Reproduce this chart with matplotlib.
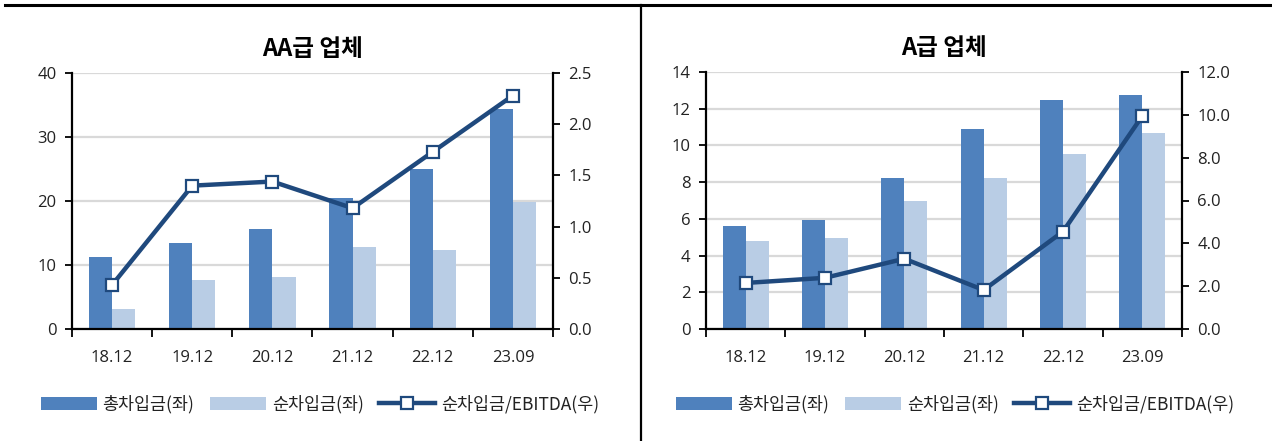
import matplotlib
matplotlib.use("Agg")
import matplotlib.pyplot as plt
from matplotlib.patches import Patch
from matplotlib.lines import Line2D

plt.rcParams['font.family'] = ['Open Sans', 'Noto Sans CJK KR', 'DejaVu Sans']

periods = ["18.12", "19.12", "20.12", "21.12", "22.12", "23.09"]

# AA급 업체
aa_gross = [11.3, 13.5, 15.6, 20.5, 25.0, 34.4]
aa_net = [3.1, 7.6, 8.2, 12.8, 12.4, 19.9]
aa_ratio = [0.43, 1.40, 1.44, 1.18, 1.73, 2.28]

# A급 업체
a_gross = [5.6, 5.93, 8.25, 10.9, 12.49, 12.77]
a_net = [4.82, 4.93, 6.96, 8.21, 9.54, 10.7]
a_ratio = [2.15, 2.39, 3.28, 1.82, 4.55, 9.95]

label_gross = "총차입금(좌)"
label_net = "순차입금(좌)"
label_ratio = "순차입금/EBITDA(우)"

C_DARK = "#4F81BD"
C_LIGHT = "#B9CDE5"
C_LINE = "#1F497D"
C_GRID = "#D9D9D9"
C_TEXT = "#222222"
KR = ['Noto Sans CJK KR', 'DejaVu Sans']

W, H = 1272, 441
fig = plt.figure(figsize=(W / 100, H / 100), dpi=100)


def px_axes(x0, y0, x1, y1):
    return fig.add_axes([x0 / W, 1 - y1 / H, (x1 - x0) / W, (y1 - y0) / H])


def panel(box, title, gross, net, ratio, lmax, lstep, rmax, rstep, rfmt, leg_x):
    ax = px_axes(*box)
    n = len(periods)
    x = list(range(n))
    bw = 0.29
    ax.bar([i - bw / 2 for i in x], gross, width=bw, color=C_DARK, zorder=2)
    ax.bar([i + bw / 2 for i in x], net, width=bw, color=C_LIGHT, zorder=2)
    ax.set_xlim(-0.5, n - 0.5)
    ax.set_ylim(0, lmax)
    ticks = [i * lstep for i in range(int(round(lmax / lstep)) + 1)]
    ax.set_yticks(ticks)
    ax.set_yticklabels([f"{t:g}" for t in ticks])
    ax.grid(axis='y', color=C_GRID, linewidth=1.6, zorder=0)
    ax.set_axisbelow(True)
    ax.set_xticks(x)
    ax.set_xticklabels(periods)
    ax.set_xticks([i - 0.5 for i in range(n + 1)], minor=True)
    ax.tick_params(axis='x', which='major', length=0, pad=15, labelsize=12,
                   labelcolor=C_TEXT)
    ax.tick_params(axis='x', which='minor', length=6, width=1.3, direction='out')
    ax.tick_params(axis='y', length=5, width=1.3, direction='out', pad=6,
                   labelsize=12, labelcolor=C_TEXT)
    for s in ('left', 'bottom'):
        ax.spines[s].set_linewidth(1.6)
    ax.spines['top'].set_visible(False)
    ax.spines['right'].set_visible(False)
    ax.set_title(title, fontsize=17, fontweight='bold', pad=12, family=KR)

    ax2 = ax.twinx()
    ax2.plot(x, ratio, color=C_LINE, linewidth=3.2, marker='s', markersize=9,
             markerfacecolor='white', markeredgecolor=C_LINE, markeredgewidth=1.6,
             zorder=5)
    ax2.set_ylim(0, rmax)
    rticks = [i * rstep for i in range(int(round(rmax / rstep)) + 1)]
    ax2.set_yticks(rticks)
    ax2.set_yticklabels([rfmt.format(t) for t in rticks])
    ax2.tick_params(axis='y', length=5, width=1.3, direction='out', pad=6,
                    labelsize=12, labelcolor=C_TEXT)
    ax2.spines['right'].set_linewidth(1.6)
    ax2.spines['top'].set_visible(False)
    ax2.spines['left'].set_visible(False)
    ax2.spines['bottom'].set_visible(False)

    handles = [
        Patch(facecolor=C_DARK, edgecolor='none', label=label_gross),
        Patch(facecolor=C_LIGHT, edgecolor='none', label=label_net),
        Line2D([], [], color=C_LINE, linewidth=3.2, marker='s', markersize=9,
               markerfacecolor='white', markeredgecolor=C_LINE,
               markeredgewidth=1.6, label=label_ratio),
    ]
    fig.legend(handles=handles, loc='center', bbox_to_anchor=(leg_x / W, 1 - 404 / H),
               ncol=3, frameon=False, handlelength=3.2, handleheight=0.8,
               handletextpad=0.35, columnspacing=0.9,
               prop={'family': KR, 'size': 12.5}, labelcolor=C_TEXT)


panel((72, 73, 553, 329), "AA급 업체", aa_gross, aa_net, aa_ratio,
      40, 10, 2.5, 0.5, "{:.1f}", 320)
panel((706, 72, 1182, 329), "A급 업체", a_gross, a_net, a_ratio,
      14, 2, 12.0, 2.0, "{:.1f}", 955)

# page frame lines
fig.add_artist(Line2D([5 / W, 1], [1 - 5 / H, 1 - 5 / H], color='black',
                      linewidth=2.2, transform=fig.transFigure))
fig.add_artist(Line2D([641 / W, 641 / W], [0, 1 - 5 / H], color='black',
                      linewidth=1.6, transform=fig.transFigure))

fig.savefig("out.png", dpi=100)
